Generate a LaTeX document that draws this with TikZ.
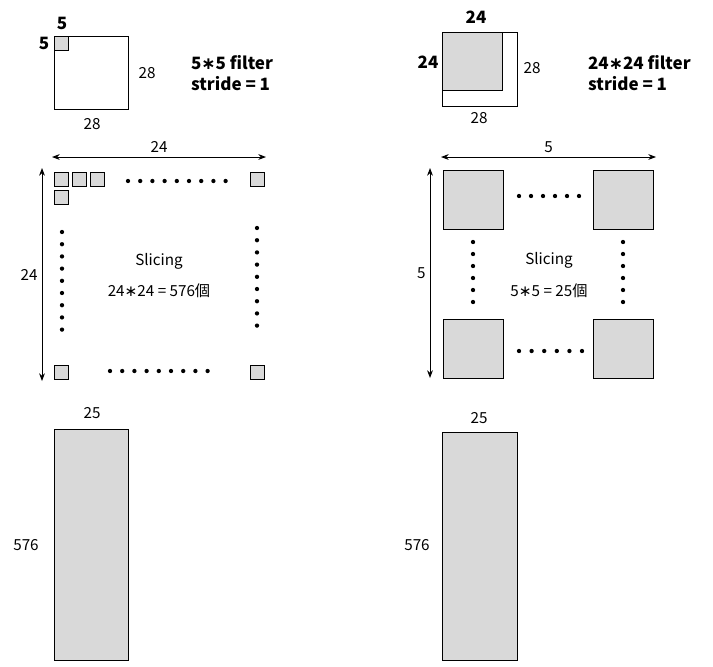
\documentclass[tikz,border=0pt]{standalone}
\usepackage{fontspec}
\setmainfont{Noto Sans CJK JP}
\newfontfamily\symfont{DejaVu Sans}
\newcommand\mast{{\symfont ∗}}
\usetikzlibrary{arrows.meta}
\begin{document}
\begin{tikzpicture}[x=0.03cm,y=-0.03cm,font=\fontsize{13}{15}\selectfont,
    box/.style={draw,thick,fill=gray!30},
    frame/.style={draw,thick},
    dim/.style={<->,>=Stealth,thick},
    dot/.style={fill,circle,inner sep=1.3pt},
    big/.style={font=\fontsize{14.5}{18}\selectfont\bfseries}]
  \useasboundingbox (0,0) rectangle (713,666);

  % left: filter 5*5
  \draw[frame] (54,36) rectangle (128,109);
  \draw[box] (54,36) rectangle (68,50);
  \node[big] (fa) at (62,23) {5};
  \node[big] (fb) at (44,43) {5};
  \node (ia) at (147,73) {28};
  \node (ib) at (92,124) {28};
  \node[big,align=left,anchor=west] (fl) at (187,73) {5\mast5 filter\\stride = 1};

  % right: filter 24*24
  \draw[frame] (442,32) rectangle (517,106);
  \draw[box] (442,32) rectangle (502,90);
  \node[big] (ga) at (476,17) {24};
  \node[big] (gb) at (428,62) {24};
  \node (ja) at (532,68) {28};
  \node (jb) at (479,118) {28};
  \node[big,align=left,anchor=west] (fr) at (584,73) {24\mast24 filter\\stride = 1};

  % left slicing
  \coordinate (h1) at (52,157); \coordinate (h2) at (266,157);
  \coordinate (v1) at (42,168); \coordinate (v2) at (42,381);
  \draw[dim] (h1) -- node[above] {24} (h2);
  \draw[dim] (v1) -- node[left] {24} (v2);
  \foreach \x/\y in {54/172,72/172,90/172,54/190,250/172,54/365,250/365}
    \draw[box] (\x,\y) rectangle ++(14,14);
  \foreach \i in {0,...,8} {
    \node[dot] at (128+\i*12.2,181) {};
    \node[dot] at (110+\i*12.2,371) {};
    \node[dot] at (62,232+\i*12.2) {};
    \node[dot] at (257,228+\i*12.2) {};
  }
  \node (sl) at (159,261) {Slicing};
  \node (nl) at (159,291) {24\mast24 = 576個};

  % right slicing
  \coordinate (k1) at (441,157); \coordinate (k2) at (656,157);
  \coordinate (w1) at (430,168); \coordinate (w2) at (430,378);
  \draw[dim] (k1) -- node[above] {5} (k2);
  \draw[dim] (w1) -- node[left] {5} (w2);
  \foreach \x/\y in {443/170,593/170,443/319,593/319}
    \draw[box] (\x,\y) rectangle ++(60,59);
  \foreach \i in {0,...,5} {
    \node[dot] at (519+\i*12,196) {};
    \node[dot] at (519+\i*12.6,351) {};
    \node[dot] at (473,242+\i*12) {};
    \node[dot] at (623,242+\i*12) {};
  }
  \node (sr) at (549,260) {Slicing};
  \node (nr) at (549,291) {5\mast5 = 25個};

  % matrices
  \draw[box] (54,429) rectangle (128,660);
  \node (ma) at (92,413) {25};
  \node (mb) at (26,545) {576};
  \draw[box] (442,432) rectangle (517,660);
  \node (na) at (479,418) {25};
  \node (nb) at (417,545) {576};
\end{tikzpicture}
\end{document}
